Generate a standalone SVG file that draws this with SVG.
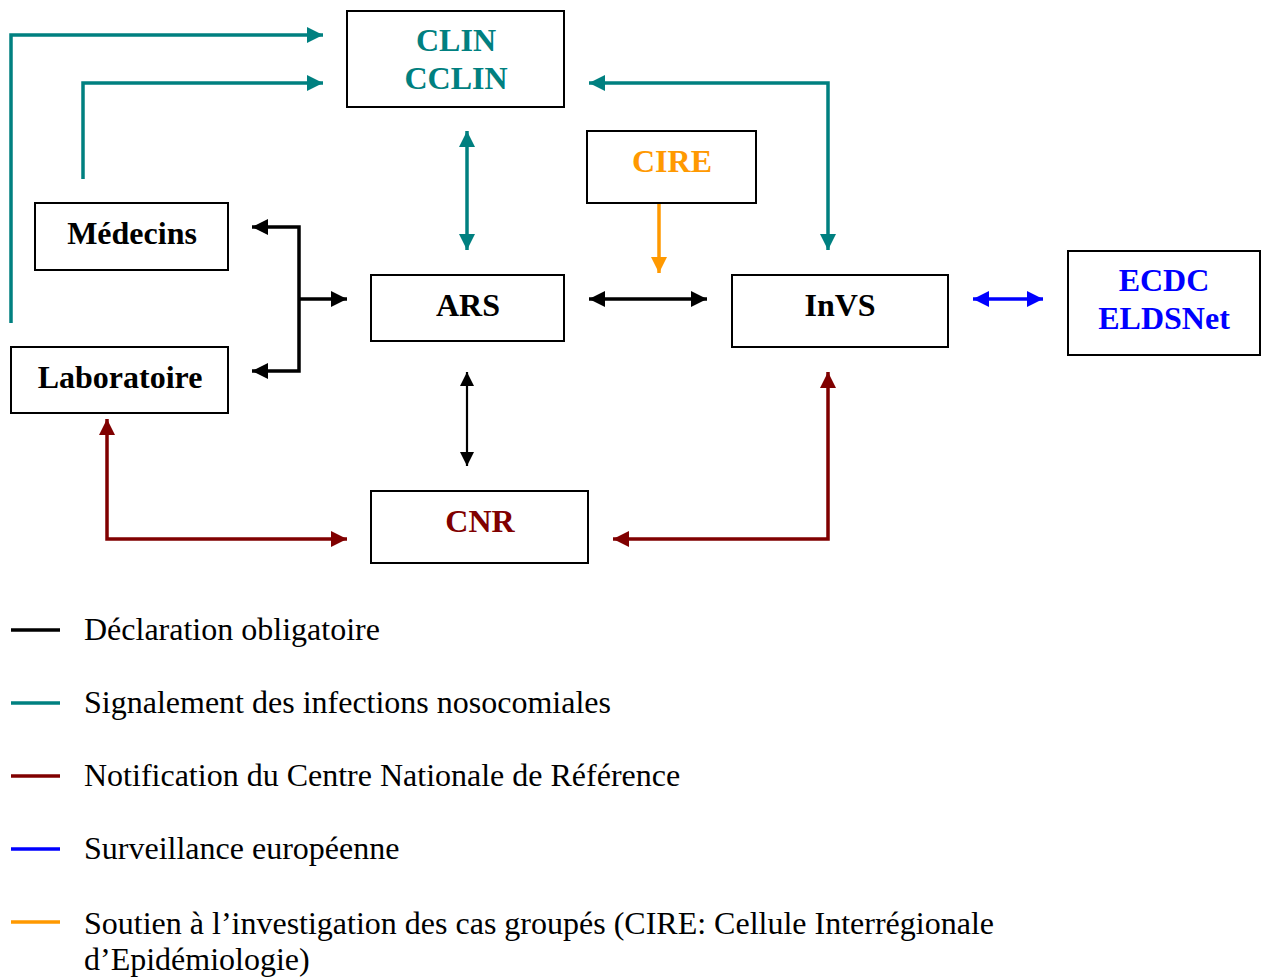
<svg xmlns="http://www.w3.org/2000/svg" width="1265" height="979" viewBox="0 0 1265 979">
<style>
.box{fill:#fff;stroke:#000;stroke-width:2}
.nt{font-family:"Liberation Serif","Times New Roman",serif;font-weight:bold;font-size:32px;text-anchor:middle}
.lg{font-family:"Liberation Serif","Times New Roman",serif;font-size:32px;fill:#000}
.c{fill:none;stroke-linejoin:miter;stroke-linecap:butt}
.teal{stroke:#008080;stroke-width:3.5}
.blk{stroke:#000;stroke-width:3.5}
.blkt{stroke:#000;stroke-width:2.2}
.red{stroke:#800000;stroke-width:3.5}
.blue{stroke:#0000FF;stroke-width:3.5}
.org{stroke:#FF9900;stroke-width:3.5}
</style>
<defs>
<marker id="aT" markerUnits="userSpaceOnUse" markerWidth="16" markerHeight="16" refX="16" refY="8" orient="auto-start-reverse"><path d="M0,0 L16,8 L0,16 z" fill="#008080"/></marker>
<marker id="aB" markerUnits="userSpaceOnUse" markerWidth="16" markerHeight="16" refX="16" refY="8" orient="auto-start-reverse"><path d="M0,0 L16,8 L0,16 z" fill="#000"/></marker>
<marker id="aBs" markerUnits="userSpaceOnUse" markerWidth="14" markerHeight="14" refX="14" refY="7" orient="auto-start-reverse"><path d="M0,0 L14,7 L0,14 z" fill="#000"/></marker>
<marker id="aR" markerUnits="userSpaceOnUse" markerWidth="16" markerHeight="16" refX="16" refY="8" orient="auto-start-reverse"><path d="M0,0 L16,8 L0,16 z" fill="#800000"/></marker>
<marker id="aU" markerUnits="userSpaceOnUse" markerWidth="16" markerHeight="16" refX="16" refY="8" orient="auto-start-reverse"><path d="M0,0 L16,8 L0,16 z" fill="#0000FF"/></marker>
<marker id="aO" markerUnits="userSpaceOnUse" markerWidth="16" markerHeight="16" refX="16" refY="8" orient="auto-start-reverse"><path d="M0,0 L16,8 L0,16 z" fill="#FF9900"/></marker>
</defs>
<rect width="1265" height="979" fill="#fff"/>
<g id="connectors">
<path class="c teal" d="M11,323 V35 H323" marker-end="url(#aT)"/>
<path class="c teal" d="M83,179 V83 H323" marker-end="url(#aT)"/>
<path class="c teal" d="M828,250 V83 H589" marker-start="url(#aT)" marker-end="url(#aT)"/>
<path class="c teal" d="M467,131 V250" marker-start="url(#aT)" marker-end="url(#aT)"/>
<path class="c org" d="M659,203 V273" marker-end="url(#aO)"/>
<path class="c blk" d="M589,299 H707" marker-start="url(#aB)" marker-end="url(#aB)"/>
<path class="c blue" d="M973,299 H1043" marker-start="url(#aU)" marker-end="url(#aU)"/>
<path class="c blk" d="M252,227 H299 V371 H252" marker-start="url(#aB)" marker-end="url(#aB)"/>
<path class="c blk" d="M299,299 H347" marker-end="url(#aB)"/>
<path class="c blkt" d="M467,372 V466" marker-start="url(#aBs)" marker-end="url(#aBs)"/>
<path class="c red" d="M107,419 V539 H347" marker-start="url(#aR)" marker-end="url(#aR)"/>
<path class="c red" d="M828,372 V539 H613" marker-start="url(#aR)" marker-end="url(#aR)"/>
</g>
<g id="clin"><rect class="box" x="347" y="11" width="217" height="96"/><text class="nt" fill="#008080" x="456" y="51">CLIN</text><text class="nt" fill="#008080" x="456" y="89">CCLIN</text></g>
<g id="medecins"><rect class="box" x="35" y="203" width="193" height="67"/><text class="nt" fill="#000" x="132" y="244">Médecins</text></g>
<g id="laboratoire"><rect class="box" x="11" y="347" width="217" height="66"/><text class="nt" fill="#000" x="120" y="388">Laboratoire</text></g>
<g id="ars"><rect class="box" x="371" y="275" width="193" height="66"/><text class="nt" fill="#000" x="468" y="316">ARS</text></g>
<g id="cire"><rect class="box" x="587" y="131" width="169" height="72"/><text class="nt" fill="#FF9900" x="672" y="172">CIRE</text></g>
<g id="invs"><rect class="box" x="732" y="275" width="216" height="72"/><text class="nt" fill="#000" x="840" y="316">InVS</text></g>
<g id="ecdc"><rect class="box" x="1068" y="251" width="192" height="104"/><text class="nt" fill="#0000FF" x="1164" y="291">ECDC</text><text class="nt" fill="#0000FF" x="1164" y="329">ELDSNet</text></g>
<g id="cnr"><rect class="box" x="371" y="491" width="217" height="72"/><text class="nt" fill="#800000" x="480" y="532">CNR</text></g>
<g id="legend">
<line x1="11" y1="630" x2="60" y2="630" stroke="#000" stroke-width="3.5"/>
<line x1="11" y1="703" x2="60" y2="703" stroke="#008080" stroke-width="3.5"/>
<line x1="11" y1="776" x2="60" y2="776" stroke="#800000" stroke-width="3.5"/>
<line x1="11" y1="849" x2="60" y2="849" stroke="#0000FF" stroke-width="3.5"/>
<line x1="11" y1="922" x2="60" y2="922" stroke="#FF9900" stroke-width="3.5"/>
<text class="lg" x="84" y="640">Déclaration obligatoire</text>
<text class="lg" x="84" y="713">Signalement des infections nosocomiales</text>
<text class="lg" x="84" y="786">Notification du Centre Nationale de Référence</text>
<text class="lg" x="84" y="859">Surveillance européenne</text>
<text class="lg" x="84" y="934">Soutien à l’investigation des cas groupés (CIRE: Cellule Interrégionale</text>
<text class="lg" x="84" y="970">d’Epidémiologie)</text>
</g>
</svg>
